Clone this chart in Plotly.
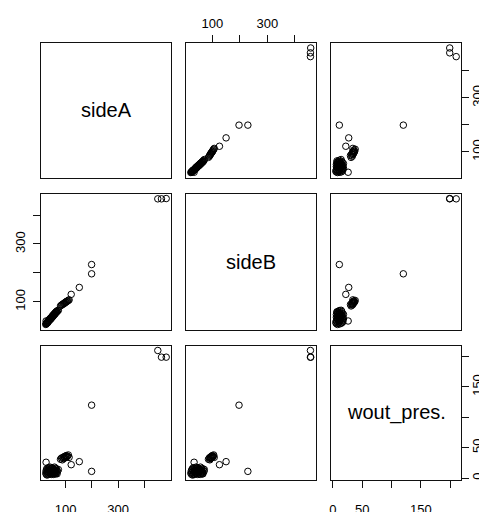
import plotly.graph_objects as go

# ---------------- data ----------------
var_names = ["sideA", "sideB", "wout_pres."]

sideA = [24, 25, 26, 27, 28, 29, 30, 31, 32, 33, 34, 35, 36, 37, 38, 39, 40, 41,
         42, 43, 44, 45, 46, 47, 48, 49, 50, 51, 52, 53, 54, 55, 56, 57, 58, 59,
         60, 61, 62, 63, 64, 65, 67, 69, 72,
         80, 84, 87, 90, 92, 94, 96, 98, 100, 102, 104, 107, 110, 113,
         121, 152, 25, 199, 199, 452, 466, 484]
sideB = [22, 24, 25, 27, 26, 29, 30, 28, 33, 31, 35, 34, 37, 36, 40, 38, 41, 39,
         44, 42, 45, 43, 47, 46, 50, 48, 52, 50, 54, 52, 56, 55, 58, 57, 60, 58,
         62, 61, 64, 63, 66, 67, 66, 70, 71,
         86, 89, 91, 92, 94, 95, 96, 98, 99, 100, 102, 103, 105, 107,
         126, 150, 34, 197, 229, 456, 456, 457]
wout_pres = [8, 12, 6, 15, 9, 5, 11, 14, 7, 17, 10, 6, 13, 16, 8, 12, 18, 9,
             14, 7, 11, 16, 6, 13, 9, 17, 12, 8, 15, 10, 6, 14, 11, 18, 8, 13,
             10, 16, 7, 12, 9, 15, 7, 11, 14,
             31, 33, 30, 34, 32, 35, 33, 36, 34, 37, 35, 36, 38, 34,
             22, 27, 26, 120, 11, 210, 199, 199]

ticks_side = [100, 200, 300, 400]
ticktext_side = ["100", "", "300", ""]
ticks_wout = [0, 50, 100, 150, 200]
ticktext_wout = ["0", "50", "", "150", ""]

# ---------------- layout geometry ----------------
# the page body has an 8px margin, so the figure is sized to fill 487x512
OFF = 8
W, H = 487 - OFF, 512 - OFF
cols_px = [(41, 171), (186, 315.5), (331, 461)]          # page pixels
rows_px = [(43, 177.5), (193.5, 329.5), (345.5, 480)]

FONT = "Arial, Liberation Sans, Helvetica, sans-serif"
data = [sideA, sideB, wout_pres]
tick_sets = [(ticks_side, ticktext_side), (ticks_side, ticktext_side),
             (ticks_wout, ticktext_wout)]


def r_range(v):
    lo, hi = min(v), max(v)
    pad = 0.04 * (hi - lo)
    return [lo - pad, hi + pad]


ranges = [r_range(v) for v in data]

fig = go.Figure()
layout = dict(
    width=W, height=H,
    margin=dict(l=0, r=0, t=0, b=0),
    paper_bgcolor="white", plot_bgcolor="white",
    showlegend=False, template="none",
    font=dict(family=FONT, color="black", size=13),
)
annotations = []

for i in range(3):
    for j in range(3):
        k = i * 3 + j + 1
        xa = "xaxis" if k == 1 else f"xaxis{k}"
        ya = "yaxis" if k == 1 else f"yaxis{k}"
        xr = "x" if k == 1 else f"x{k}"
        yr = "y" if k == 1 else f"y{k}"
        x0, x1 = [(p - OFF) / W for p in cols_px[j]]
        y0, y1 = [(p - OFF) / H for p in rows_px[i]]
        xax = dict(domain=[x0, x1], range=ranges[j], anchor=yr,
                   showline=True, mirror=True, linecolor="#111", linewidth=1,
                   showgrid=False, zeroline=False, ticks="", showticklabels=False,
                   fixedrange=True)
        yax = dict(domain=[1 - y1, 1 - y0], range=ranges[i], anchor=xr,
                   showline=True, mirror=True, linecolor="#111", linewidth=1,
                   showgrid=False, zeroline=False, ticks="", showticklabels=False,
                   fixedrange=True)
        # x axes: col 2 on top (row 1), cols 1 and 3 at bottom (row 3)
        if (i == 0 and j == 1) or (i == 2 and j in (0, 2)):
            tv, tt = tick_sets[j]
            xax.update(ticks="outside", ticklen=7, tickwidth=1, tickcolor="#111",
                       tickvals=tv, ticktext=tt, showticklabels=True,
                       side="top" if i == 0 else "bottom",
                       tickfont=dict(family=FONT, size=13, color="black"),
                       ticklabelstandoff=2 if i == 0 else 10)
        # y axes: row 2 on left (col 1), rows 1 and 3 on right (col 3)
        if (j == 0 and i == 1) or (j == 2 and i in (0, 2)):
            tv, tt = tick_sets[i]
            yax.update(ticks="outside", ticklen=7, tickwidth=1, tickcolor="#111",
                       tickvals=tv, ticktext=tt, showticklabels=True,
                       side="left" if j == 0 else "right", tickangle=-90,
                       tickfont=dict(family=FONT, size=13, color="black"),
                       ticklabelstandoff=3 if j == 0 else -3)
        layout[xa] = xax
        layout[ya] = yax
        if i == j:
            fig.add_trace(go.Scatter(x=[], y=[], xaxis=xr, yaxis=yr,
                                     mode="markers", hoverinfo="skip"))
            annotations.append(dict(text=var_names[i], xref=f"{xr} domain",
                                    yref=f"{yr} domain", x=0.5, y=0.5,
                                    showarrow=False,
                                    font=dict(family=FONT, size=20, color="black")))
        else:
            fig.add_trace(go.Scatter(
                x=data[j], y=data[i], xaxis=xr, yaxis=yr, mode="markers",
                marker=dict(symbol="circle-open", size=6.5, color="black",
                            line=dict(width=1, color="black")),
                cliponaxis=False))

layout["annotations"] = annotations
fig.update_layout(**layout)
fig.write_html("out.html")
